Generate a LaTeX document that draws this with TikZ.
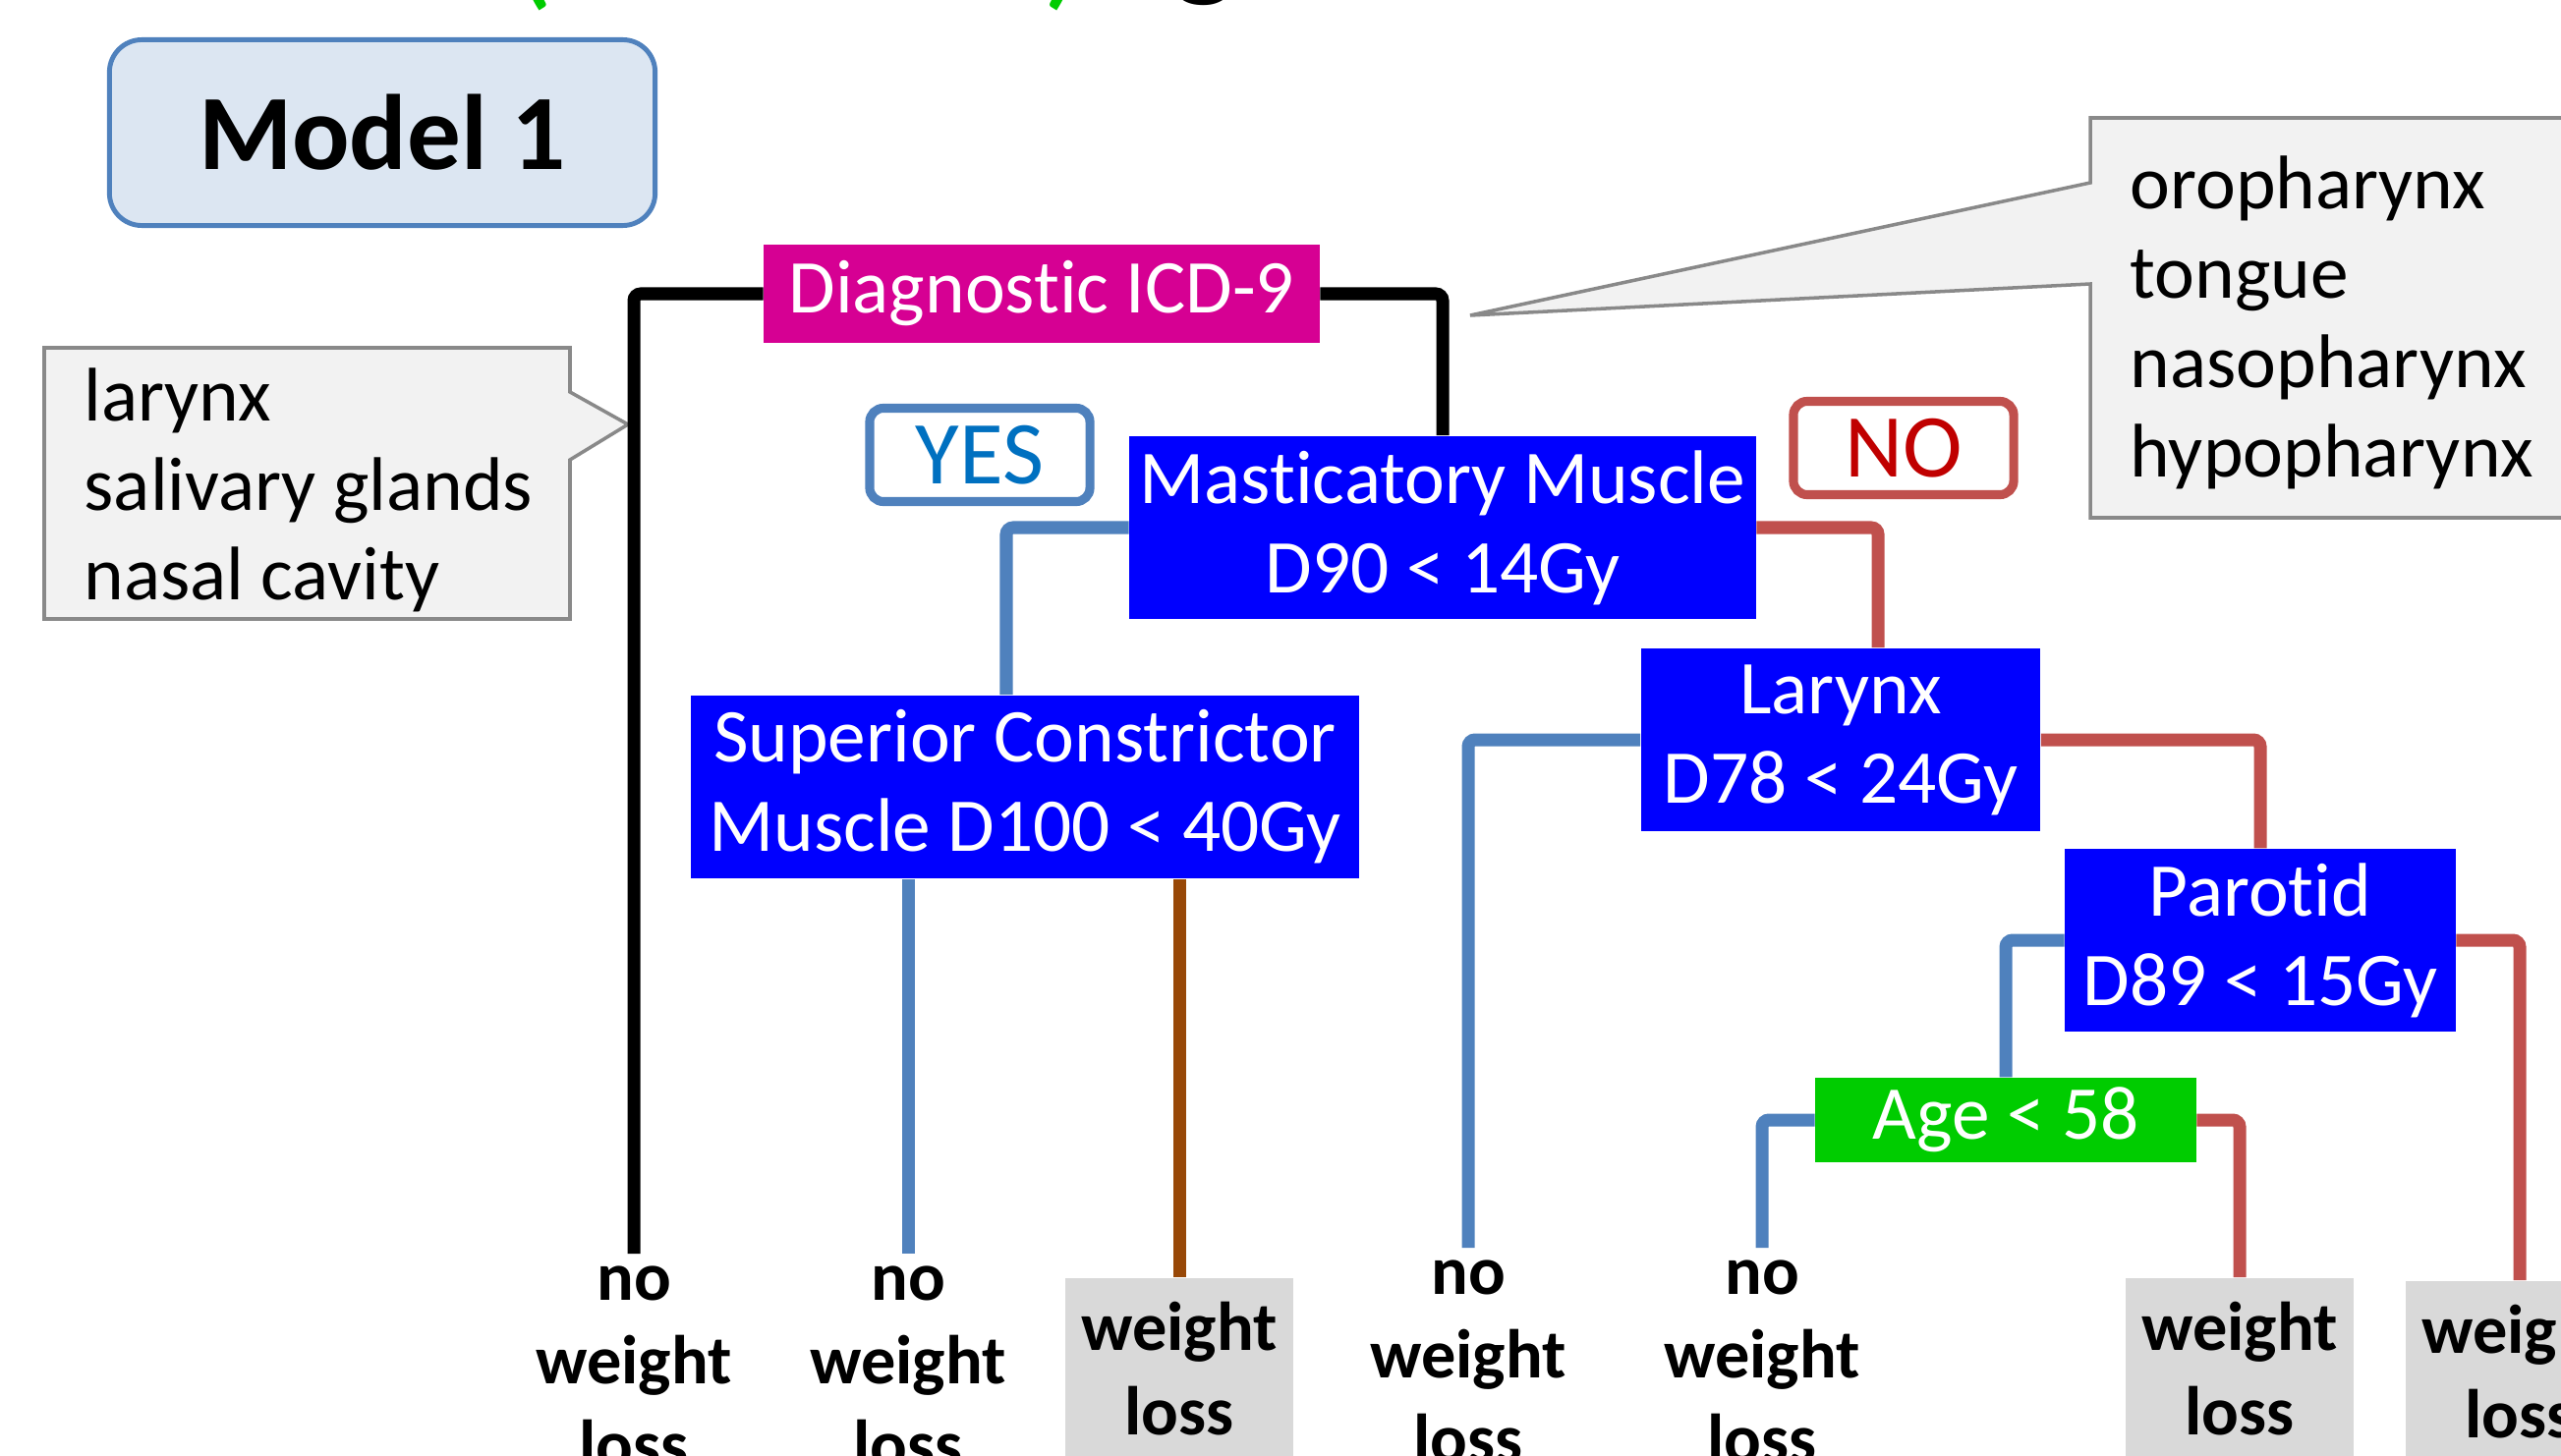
\documentclass[tikz,border=0pt]{standalone}
\usepackage{fontspec}
\setmainfont{Carlito}[RawFeature={-liga;-clig;-calt;-dlig}]
\usetikzlibrary{positioning,calc}
\definecolor{DX}{HTML}{D60093}
\definecolor{SPLIT}{HTML}{0000FF}
\definecolor{AGE}{HTML}{00CC00}
\definecolor{LB}{HTML}{4F81BD}
\definecolor{LR}{HTML}{C0504D}
\definecolor{LBR}{HTML}{984807}
\definecolor{MF}{HTML}{DCE6F2}
\definecolor{YT}{HTML}{0070C0}
\definecolor{NT}{HTML}{C00000}
\definecolor{CF}{HTML}{F2F2F2}
\definecolor{CB}{HTML}{898989}
\definecolor{WL}{HTML}{D9D9D9}

\newcommand{\txt}{\fontsize{22}{25.9}\selectfont}
\newcommand{\leaftxt}{\fontsize{20}{24.3}\selectfont\bfseries}

\tikzset{
  split/.style={fill=SPLIT, text=white, font=\txt, align=center,
    inner sep=0pt, minimum height=1.86cm},
  branch/.style={line width=3.7pt, rounded corners=2pt},
  leafno/.style={font=\leaftxt, align=center, anchor=north, inner sep=3.4pt},
  leafyes/.style={fill=WL, font=\leaftxt, align=center, anchor=north,
    inner xsep=0pt, inner ysep=7pt, minimum width=2.31cm, text depth=8pt},
  tag/.style={draw, line width=2.6pt, rounded corners=4pt, fill=white,
    font=\fontsize{26}{30}\selectfont, minimum width=2.24cm,
    minimum height=0.95cm, inner sep=0pt},
  sites/.style={font=\txt, align=left, anchor=north west, inner sep=0pt},
}

\begin{document}
\begin{tikzpicture}[x=0.01cm, y=-0.01cm]
  \useasboundingbox (0,0) rectangle (2606,1482);

  % bits of the title, cut by the top edge
  \node[font=\fontsize{40}{48}\selectfont, text=AGE, anchor=base, inner sep=0pt] (titleL) at (542,-8) {(};
  \node[font=\fontsize{40}{48}\selectfont, text=AGE, anchor=base, inner sep=0pt] (titleR) at (1083,-8) {)};
  \node[font=\fontsize{40}{48}\selectfont, anchor=base, inner sep=0pt] (titleG) at (1226,-18) {g};

  \node[draw=LB, line width=1.4pt, fill=MF, rounded corners=0.33cm,
        minimum width=5.55cm, minimum height=1.89cm,
        font=\fontsize{31}{37}\selectfont\bfseries] (model) at (389,135) {Model 1};

  % callouts
  \draw[CB, fill=CF, line width=1pt] (45,354) -- (580,354) -- (580,399) -- (639,432)
    -- (580,468) -- (580,630) -- (45,630) -- cycle;
  \node[sites] (sitesL) at (85,374) {larynx\\salivary glands\\nasal cavity};
  \draw[CB, fill=CF, line width=1pt] (2650,120) -- (2127,120) -- (2127,186) -- (1496,321)
    -- (2127,289) -- (2127,527) -- (2650,527) -- cycle;
  \node[sites] (sitesR) at (2167,158) {oropharynx\\tongue\\nasopharynx\\hypopharynx};

  % splits
  \node[fill=DX, text=white, font=\txt, minimum width=5.65cm, minimum height=1cm,
        inner sep=0pt] (diag) at (1060,299) {Diagnostic ICD-9};
  \node[split, minimum width=6.37cm] (mast) at (1468,537) {Masticatory Muscle\\D90 < 14Gy};
  \node[split, minimum width=6.80cm] (sup) at (1043,801) {Superior Constrictor\\Muscle D100 < 40Gy};
  \node[split, minimum width=4.06cm] (lar) at (1873,753) {Larynx\\D78 < 24Gy};
  \node[split, minimum width=3.97cm] (par) at (2300,957) {Parotid\\D89 < 15Gy};
  \node[fill=AGE, text=white, font=\txt, minimum width=3.87cm, minimum height=0.86cm,
        inner sep=0pt] (age) at (2041,1140) {Age < 58};

  \node[tag, draw=LB, text=YT] (yes) at (997,463) {YES};
  \node[tag, draw=LR, text=NT] (no) at (1937,456) {NO};

  % leaves
  \node[leafno] (nA) at (645,1276) {no\\weight\\loss};
  \node[leafno] (nB) at (924,1276) {no\\weight\\loss};
  \node[leafyes] (wC) at (1200,1300) {weight\\loss};
  \node[leafno] (nD) at (1494,1270) {no\\weight\\loss};
  \node[leafno] (nE) at (1793,1270) {no\\weight\\loss};
  \node[leafyes] (wF) at (2279,1300) {weight\\loss};
  \node[leafyes] (wG) at (2564,1303) {weight\\loss};

  % branches
  \draw[branch] (diag.west) -| (nA.north);
  \draw[branch] (diag.east) -| (mast.north);
  \draw[branch, LB] (mast.west) -| ([xshift=-0.19cm]sup.north);
  \draw[branch, LR] (mast.east) -| ([xshift=0.38cm]lar.north);
  \draw[branch, LB] (sup.south -| nB.north) -- (nB.north);
  \draw[branch, LBR] (sup.south -| wC.north) -- (wC.north);
  \draw[branch, LB] (lar.west) -| (nD.north);
  \draw[branch, LR] (lar.east) -| (par.north);
  \draw[branch, LB] (par.west) -| (age.north);
  \draw[branch, LR] (par.east) -| (wG.north);
  \draw[branch, LB] (age.west) -| (nE.north);
  \draw[branch, LR] (age.east) -| (wF.north);
\end{tikzpicture}
\end{document}
